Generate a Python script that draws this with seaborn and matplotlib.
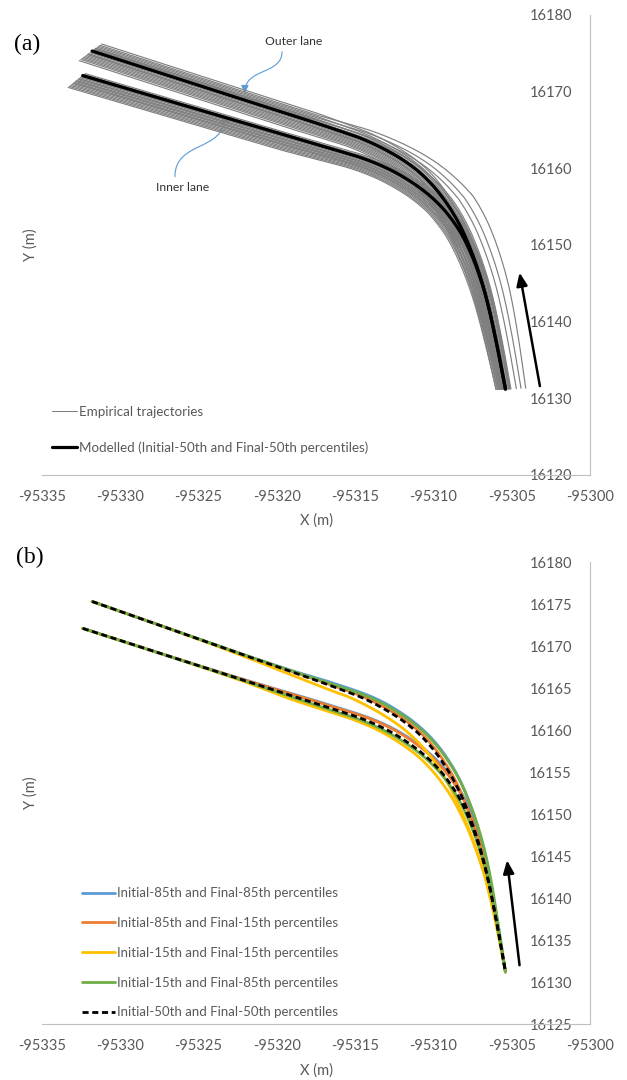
import numpy as np
import pandas as pd
import matplotlib
matplotlib.use("Agg")
import matplotlib.pyplot as plt
import seaborn as sns
from matplotlib.lines import Line2D
from matplotlib.patches import FancyArrowPatch
from matplotlib.path import Path
from matplotlib.ticker import StrMethodFormatter

# ---------------------------------------------------------------- data
# Modelled path, Initial-50th / Final-50th percentiles (outer and inner lane)
outer_50_x = [-95331.8, -95327.0, -95322.0, -95319.0, -95316.6, -95314.5, -95312.6, -95311.2, -95310.15,
              -95309.35, -95308.7, -95308.1, -95307.45, -95306.92, -95306.5, -95305.95, -95305.4]
outer_50_y = [16175.3, 16172.15, 16168.85, 16166.9, 16165.3, 16163.8, 16161.9, 16160.0, 16158.0,
              16156.0, 16154.0, 16151.7, 16148.5, 16145.3, 16142.1, 16137.0, 16131.2]
inner_50_x = [-95332.4, -95327.0, -95322.0, -95319.0, -95316.6, -95314.5, -95312.85, -95311.55, -95310.45,
              -95309.5, -95308.78, -95308.2, -95307.52, -95306.95, -95306.5, -95305.95, -95305.4]
inner_50_y = [16172.1, 16168.85, 16165.85, 16164.05, 16162.6, 16161.3, 16159.9, 16158.4, 16156.8,
              16155.0, 16153.2, 16151.4, 16148.5, 16145.3, 16142.1, 16137.0, 16131.2]

# Initial-85th / Final-85th
outer_85_85_x = [-95331.8, -95327.0, -95322.0, -95319.0, -95316.6, -95313.75, -95311.95, -95310.65, -95309.65,
                 -95308.9, -95308.3, -95307.78, -95307.2, -95306.74, -95306.38, -95305.9, -95305.4]
outer_85_85_y = [16175.3, 16172.15, 16168.9, 16167.05, 16165.7, 16163.8, 16161.9, 16160.0, 16158.0,
                 16156.0, 16154.0, 16151.7, 16148.5, 16145.3, 16142.1, 16137.0, 16131.2]
inner_85_85_x = [-95332.4, -95327.0, -95322.0, -95319.0, -95316.6, -95313.9, -95312.3, -95311.05, -95310.0,
                 -95309.1, -95308.43, -95307.9, -95307.32, -95306.83, -95306.44, -95305.93, -95305.4]
inner_85_85_y = [16172.1, 16168.85, 16165.95, 16164.3, 16162.95, 16161.3, 16159.9, 16158.4, 16156.8,
                 16155.0, 16153.2, 16151.4, 16148.5, 16145.3, 16142.1, 16137.0, 16131.2]

# Initial-85th / Final-15th
outer_85_15_x = [-95331.8, -95327.0, -95322.0, -95319.0, -95316.6, -95314.3, -95312.4, -95311.02, -95310.0,
                 -95309.23, -95308.6, -95308.05, -95307.42, -95306.9, -95306.48, -95305.94, -95305.4]
outer_85_15_y = [16175.3, 16172.15, 16168.86, 16166.95, 16165.4, 16163.8, 16161.9, 16160.0, 16158.0,
                 16156.0, 16154.0, 16151.7, 16148.5, 16145.3, 16142.1, 16137.0, 16131.2]
inner_85_15_x = [-95332.4, -95327.0, -95322.0, -95319.0, -95316.6, -95314.0, -95312.4, -95311.15, -95310.1,
                 -95309.2, -95308.52, -95307.98, -95307.37, -95306.85, -95306.45, -95305.93, -95305.4]
inner_85_15_y = [16172.1, 16168.85, 16165.92, 16164.25, 16162.85, 16161.3, 16159.9, 16158.4, 16156.8,
                 16155.0, 16153.2, 16151.4, 16148.5, 16145.3, 16142.1, 16137.0, 16131.2]

# Initial-15th / Final-15th
outer_15_15_x = [-95331.8, -95327.0, -95322.0, -95319.0, -95316.6, -95315.25, -95313.3, -95311.82, -95310.7,
                 -95309.85, -95309.18, -95308.55, -95307.8, -95307.17, -95306.65, -95306.01, -95305.4]
outer_15_15_y = [16175.3, 16172.15, 16168.7, 16166.5, 16164.75, 16163.8, 16161.9, 16160.0, 16158.0,
                 16156.0, 16154.0, 16151.7, 16148.5, 16145.3, 16142.1, 16137.0, 16131.2]
inner_15_15_x = [-95332.4, -95327.0, -95322.0, -95319.0, -95316.6, -95315.2, -95313.45, -95312.1, -95310.95,
                 -95310.0, -95309.26, -95308.65, -95307.87, -95307.2, -95306.65, -95306.01, -95305.4]
inner_15_15_y = [16172.1, 16168.85, 16165.7, 16163.6, 16162.15, 16161.3, 16159.9, 16158.4, 16156.8,
                 16155.0, 16153.2, 16151.4, 16148.5, 16145.3, 16142.1, 16137.0, 16131.2]

# Initial-15th / Final-85th
outer_15_85_x = [-95331.8, -95327.0, -95322.0, -95319.0, -95316.6, -95313.95, -95312.1, -95310.75, -95309.73,
                 -95308.95, -95308.32, -95307.76, -95307.15, -95306.68, -95306.32, -95305.87, -95305.4]
outer_15_85_y = [16175.3, 16172.15, 16168.88, 16167.0, 16165.55, 16163.8, 16161.9, 16160.0, 16158.0,
                 16156.0, 16154.0, 16151.7, 16148.5, 16145.3, 16142.1, 16137.0, 16131.2]
inner_15_85_x = [-95332.4, -95327.0, -95322.0, -95319.0, -95316.6, -95314.8, -95313.1, -95311.75, -95310.6,
                 -95309.62, -95308.88, -95308.28, -95307.57, -95306.97, -95306.5, -95305.95, -95305.4]
inner_15_85_y = [16172.1, 16168.85, 16165.8, 16163.9, 16162.4, 16161.3, 16159.9, 16158.4, 16156.8,
                 16155.0, 16153.2, 16151.4, 16148.5, 16145.3, 16142.1, 16137.0, 16131.2]

# Empirical trajectories: lateral deviation (m, + = outside of the curve) from the
# modelled path on the approach, at the bend and at the exit
outer_emp_start = [1.1, 0.9, 0.75, 0.6, 0.45, 0.3, 0.2, 0.1, 0.0, -0.1, -0.25, -0.4, -0.55, -0.7, -0.85,
                   -1.0, -1.15, -1.3, -1.5, 0.4, -0.5, 0.05]
outer_emp_bend = [0.4, 1.9, 0.3, 1.3, 0.2, 0.9, 0.1, 0.15, 0.0, -0.1, -0.2, -0.3, -0.4, -0.5, -0.6,
                  -0.7, -0.8, -0.9, -1.0, 0.35, -0.35, 0.5]
outer_emp_end = [0.3, 1.3, 0.2, 1.0, 0.1, 0.7, 0.0, 0.1, -0.1, 0.0, -0.2, -0.1, -0.3, -0.2, -0.4,
                 -0.3, -0.5, -0.4, -0.6, 0.25, -0.2, 0.35]
inner_emp_start = [0.3, 0.15, 0.0, -0.15, -0.3, -0.45, -0.6, -0.75, -0.9, -1.05, -1.2, -1.35, -1.5, -1.65,
                   -1.8, -0.2, -0.5, -0.8, -1.1, 0.1]
inner_emp_bend = [0.5, 0.3, 0.2, 0.0, -0.1, -0.2, -0.3, -0.4, -0.5, -0.6, -0.7, -0.8, -0.9, -1.0,
                  -1.1, 0.1, -0.35, -0.55, -0.75, 0.4]
inner_emp_end = [0.3, 0.2, 0.1, 0.0, -0.1, -0.1, -0.2, -0.2, -0.3, -0.3, -0.4, -0.4, -0.5, -0.5,
                 -0.6, 0.05, -0.15, -0.25, -0.35, 0.25]

x_ticks = [-95335, -95330, -95325, -95320, -95315, -95310, -95305, -95300]
y_ticks_a = [16120, 16130, 16140, 16150, 16160, 16170, 16180]
y_ticks_b = [16125, 16130, 16135, 16140, 16145, 16150, 16155, 16160, 16165, 16170, 16175, 16180]

legend_a = ["Empirical trajectories", "Modelled (Initial-50th and Final-50th percentiles)"]
legend_b = ["Initial-85th and Final-85th percentiles", "Initial-85th and Final-15th percentiles",
            "Initial-15th and Final-15th percentiles", "Initial-15th and Final-85th percentiles",
            "Initial-50th and Final-50th percentiles"]

# ---------------------------------------------------------------- style
sns.set_theme(style="white")
plt.rcParams["font.family"] = ["Lato", "DejaVu Sans"]
plt.rcParams["axes.unicode_minus"] = False

GREY_TXT = "#595959"
AXIS_LINE = "#BFBFBF"
C_BLUE, C_ORANGE, C_YELLOW, C_GREEN = "#5B9BD5", "#ED7D31", "#FFC000", "#70AD47"
EMP_GREY = "#808080"

fig = plt.figure(figsize=(6.27, 10.8), dpi=100)
ax_a = fig.add_axes([42 / 627, 1 - 475 / 1080, 548 / 627, 460 / 1080])
ax_b = fig.add_axes([42 / 627, 1 - 1024 / 1080, 548 / 627, 462 / 1080])


def smooth_xy(x, y, per_seg=16):
    """Smoothed line through the points (centripetal Catmull-Rom)."""
    p = np.column_stack([x, y]).astype(float)
    ext = np.vstack([2 * p[0] - p[1], p, 2 * p[-1] - p[-2]])
    out = [p[0]]
    for i in range(1, len(ext) - 2):
        p0, p1, p2, p3 = ext[i - 1], ext[i], ext[i + 1], ext[i + 2]
        t0 = 0.0
        t1 = t0 + np.linalg.norm(p1 - p0) ** 0.5
        t2 = t1 + np.linalg.norm(p2 - p1) ** 0.5
        t3 = t2 + np.linalg.norm(p3 - p2) ** 0.5
        for t in np.linspace(t1, t2, per_seg + 1)[1:]:
            a1 = (t1 - t) / (t1 - t0) * p0 + (t - t0) / (t1 - t0) * p1
            a2 = (t2 - t) / (t2 - t1) * p1 + (t - t1) / (t2 - t1) * p2
            a3 = (t3 - t) / (t3 - t2) * p2 + (t - t2) / (t3 - t2) * p3
            b1 = (t2 - t) / (t2 - t0) * a1 + (t - t0) / (t2 - t0) * a2
            b2 = (t3 - t) / (t3 - t1) * a2 + (t - t1) / (t3 - t1) * a3
            out.append((t2 - t) / (t2 - t1) * b1 + (t - t1) / (t2 - t1) * b2)
    out = np.array(out)
    return out[:, 0], out[:, 1]


def shifted(x, y, o_start, o_bend, o_end):
    """Path displaced sideways from a base path by a varying lateral deviation."""
    x = np.asarray(x, float)
    y = np.asarray(y, float)
    tx, ty = np.gradient(x), np.gradient(y)
    norm = np.hypot(tx, ty)
    nx, ny = -ty / norm, tx / norm
    seg = np.hypot(np.diff(x), np.diff(y))
    s = np.concatenate([[0.0], np.cumsum(seg)])
    s /= s[-1]
    off = np.interp(s, [0.0, 0.3, 0.55, 1.0], [o_start, o_start, o_bend, o_end])
    return x + off * nx, y + off * ny


def style_axes(ax, yticks):
    ax.set_xlim(x_ticks[0], x_ticks[-1])
    ax.set_ylim(yticks[0], yticks[-1])
    ax.set_xticks(x_ticks)
    ax.set_yticks(yticks)
    ax.xaxis.set_major_formatter(StrMethodFormatter("{x:.0f}"))
    ax.yaxis.set_major_formatter(StrMethodFormatter("{x:.0f}"))
    ax.grid(False)
    for side in ("top", "right"):
        ax.spines[side].set_visible(False)
    # vertical axis crosses at the right end of the X range
    ax.spines["left"].set_position(("data", x_ticks[-1]))
    for side in ("left", "bottom"):
        ax.spines[side].set_color(AXIS_LINE)
        ax.spines[side].set_linewidth(0.8)
    ax.tick_params(length=0, labelsize=10.5, labelcolor=GREY_TXT)
    ax.tick_params(axis="x", pad=11)
    ax.tick_params(axis="y", pad=13)
    ax.set_xlabel("X (m)", fontsize=10.5, color=GREY_TXT)
    ax.set_ylabel("Y (m)", fontsize=10.5, color=GREY_TXT)
    ax.xaxis.label.set_va("center")
    ax.yaxis.label.set_va("center")


# ---------------------------------------------------------------- panel (a)
rows = []
tid = 0
for bx, by, st, bd, en in [
    (outer_50_x, outer_50_y, outer_emp_start, outer_emp_bend, outer_emp_end),
    (inner_50_x, inner_50_y, inner_emp_start, inner_emp_bend, inner_emp_end),
]:
    sx, sy = smooth_xy(bx, by)
    for a, b, c in zip(st, bd, en):
        ex, ey = shifted(sx, sy, a, b, c)
        for xi, yi in zip(ex, ey):
            rows.append((tid, xi, yi))
        tid += 1
emp = pd.DataFrame(rows, columns=["traj", "x", "y"])

sns.lineplot(data=emp, x="x", y="y", units="traj", estimator=None, sort=False,
             color=EMP_GREY, lw=0.85, ax=ax_a)
for mx, my in [(outer_50_x, outer_50_y), (inner_50_x, inner_50_y)]:
    sx, sy = smooth_xy(mx, my)
    sns.lineplot(x=sx, y=sy, sort=False, color="black", lw=2.3, ax=ax_a)

style_axes(ax_a, y_ticks_a)
ax_a.xaxis.set_label_coords(0.5, -0.1)
ax_a.yaxis.set_label_coords(-0.02, 0.5)

# lane call-outs
ax_a.text(-95318.9, 16176.5, "Outer lane", fontsize=8.8, color="#333333", ha="center", va="center")
ax_a.text(-95326.0, 16157.45, "Inner lane", fontsize=8.8, color="#333333", ha="center", va="center")
callouts = [
    [(-95319.67, 16175.2), (-95319.67, 16172.2), (-95322.04, 16173.1), (-95322.04, 16169.83)],
    [(-95326.51, 16158.9), (-95326.51, 16163.7), (-95323.31, 16162.1), (-95323.31, 16166.96)],
]
for verts in callouts:
    p = Path(verts, [Path.MOVETO, Path.CURVE4, Path.CURVE4, Path.CURVE4])
    ax_a.add_patch(FancyArrowPatch(path=p, arrowstyle="-|>,head_length=0.5,head_width=0.25",
                                   mutation_scale=9, color=C_BLUE, lw=0.8))

ax_a.annotate("", xy=(-95304.5, 16146.4), xytext=(-95303.2, 16131.6),
              arrowprops=dict(arrowstyle="-|>,head_length=0.65,head_width=0.27", mutation_scale=12,
                              lw=1.8, color="black", shrinkA=0, shrinkB=0))

handles_a = [Line2D([], [], color=EMP_GREY, lw=0.75), Line2D([], [], color="black", lw=2.3)]
ax_a.legend(handles_a, legend_a, loc="upper left", bbox_to_anchor=(0.018, 0.150), frameon=False,
            borderpad=0, borderaxespad=0, handlelength=1.9, handletextpad=0.15, labelspacing=1.75,
            fontsize=9.6, labelcolor=GREY_TXT)

# ---------------------------------------------------------------- panel (b)
DASH = (0, (2.2, 1.3))
series_b = [
    (outer_85_85_x, outer_85_85_y, inner_85_85_x, inner_85_85_y, C_BLUE, "-"),
    (outer_85_15_x, outer_85_15_y, inner_85_15_x, inner_85_15_y, C_ORANGE, "-"),
    (outer_15_15_x, outer_15_15_y, inner_15_15_x, inner_15_15_y, C_YELLOW, "-"),
    (outer_15_85_x, outer_15_85_y, inner_15_85_x, inner_15_85_y, C_GREEN, "-"),
    (outer_50_x, outer_50_y, inner_50_x, inner_50_y, "black", DASH),
]
for ox, oy, ix, iy, col, ls in series_b:
    for xx, yy in [(ox, oy), (ix, iy)]:
        sx, sy = smooth_xy(xx, yy)
        sns.lineplot(x=sx, y=sy, sort=False, color=col, lw=2.0, linestyle=ls, ax=ax_b)

style_axes(ax_b, y_ticks_b)
ax_b.xaxis.set_label_coords(0.5, -0.1)
ax_b.yaxis.set_label_coords(-0.02, 0.5)

ax_b.annotate("", xy=(-95305.3, 16144.5), xytext=(-95304.5, 16132.0),
              arrowprops=dict(arrowstyle="-|>,head_length=0.65,head_width=0.27", mutation_scale=12,
                              lw=1.8, color="black", shrinkA=0, shrinkB=0))

handles_b = [Line2D([], [], color=c, lw=2.0, linestyle=ls) for *_, c, ls in series_b]
ax_b.legend(handles_b, legend_b, loc="upper left", bbox_to_anchor=(0.073, 0.296), frameon=False,
            borderpad=0, borderaxespad=0, handlelength=2.5, handletextpad=0.15, labelspacing=1.35,
            fontsize=9.5, labelcolor=GREY_TXT)

# panel letters
for txt, px, py in [("(a)", 27, 44), ("(b)", 30, 557)]:
    fig.text(px / 627, 1 - py / 1080, txt, family=["Liberation Serif", "DejaVu Serif"],
             fontsize=17, ha="center", va="center", color="black")

fig.savefig("out.png", dpi=100)
